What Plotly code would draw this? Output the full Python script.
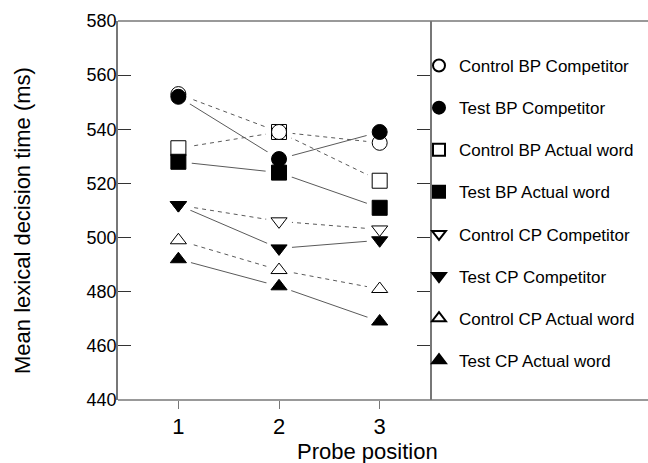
import plotly.graph_objects as go

# ---- data ----
probe_positions = [1, 2, 3]
series_names = [
    "Control BP Competitor", "Test BP Competitor",
    "Control BP Actual word", "Test BP Actual word",
    "Control CP Competitor", "Test CP Competitor",
    "Control CP Actual word", "Test CP Actual word",
]
control_bp_competitor = [553, 539, 535]
test_bp_competitor = [552, 529, 539]
control_bp_actual = [533, 539, 521]
test_bp_actual = [528, 524, 511]
control_cp_competitor = [512, 506, 503]
test_cp_competitor = [512, 496, 499]
control_cp_actual = [499, 488, 481]
test_cp_actual = [492, 482, 469]
y_ticks = [440, 460, 480, 500, 520, 540, 560, 580]

values = [control_bp_competitor, test_bp_competitor, control_bp_actual, test_bp_actual,
          control_cp_competitor, test_cp_competitor, control_cp_actual, test_cp_actual]

# ---- styles ----
symbols = ["circle", "circle", "square", "square",
           "triangle-down", "triangle-down", "triangle-up", "triangle-up"]
filled = [False, True, False, True, False, True, False, True]
sizes = [15, 15, 15, 15, 14, 14, 14, 14]
# drawing order (controls first, squares before circles), legend keeps series order
draw_order = [2, 0, 4, 6, 3, 1, 5, 7]

W, H = 648, 463
ML, MR, MT, MB = 118, 218, 21, 63
PW, PH = W - ML - MR, H - MT - MB

def px_x(px):
    return (px - ML) / PW

def px_y(py):
    return (H - MB - py) / PH

FONT = "Arial, Liberation Sans, sans-serif"
LINE_COLOR = "#5a5a5a"
AXIS_COLOR = "#777777"

fig = go.Figure()

# connecting lines
for i in draw_order:
    fig.add_trace(go.Scatter(
        x=probe_positions, y=values[i], mode="lines",
        line=dict(color=LINE_COLOR, width=1,
                  dash="solid" if filled[i] else "4px,4px"),
        showlegend=False, hoverinfo="skip"))

# white halos so lines stop short of markers
for i in draw_order:
    fig.add_trace(go.Scatter(
        x=probe_positions, y=values[i], mode="markers",
        marker=dict(symbol="circle", size=sizes[i] + 12, color="white",
                    line=dict(width=0)),
        showlegend=False, hoverinfo="skip"))

# markers
for i in draw_order:
    fig.add_trace(go.Scatter(
        x=probe_positions, y=values[i], mode="markers", name=series_names[i],
        legendrank=i + 1, legendgroup="g%d" % i,
        marker=dict(symbol=symbols[i], size=sizes[i],
                    color="black" if filled[i] else "white",
                    line=dict(color="black", width=1))))

fig.update_layout(
    width=W, height=H,
    margin=dict(l=ML, r=MR, t=MT, b=MB, pad=0, autoexpand=False),
    paper_bgcolor="white", plot_bgcolor="white",
    font=dict(family=FONT, color="black"),
    showlegend=True,
    legend=dict(x=px_x(419), y=px_y(48), xanchor="left", yanchor="top",
                font=dict(size=17, family=FONT), itemsizing="constant",
                traceorder="grouped", tracegroupgap=17, bgcolor="rgba(0,0,0,0)",
                itemwidth=30),
    xaxis=dict(range=[0.4, 3.5], tickvals=probe_positions,
               ticktext=[str(v) for v in probe_positions],
               ticks="outside", ticklen=8, tickcolor=AXIS_COLOR,
               showline=False, showgrid=False, zeroline=False,
               ticklabelstandoff=-1,
               tickfont=dict(size=22, family=FONT)),
    yaxis=dict(range=[440, 580], tickvals=y_ticks,
               ticks="inside", ticklen=13, tickcolor="#333333",
               showline=True, linecolor=AXIS_COLOR, linewidth=1.5, mirror="ticks",
               showgrid=False, zeroline=False, ticklabelstandoff=-4,
               tickfont=dict(size=18, family=FONT)),
    shapes=[
        dict(type="line", xref="paper", yref="paper", x0=0, x1=px_x(W), y0=1, y1=1,
             line=dict(color=AXIS_COLOR, width=1.5)),
        dict(type="line", xref="paper", yref="paper", x0=0, x1=px_x(W), y0=0, y1=0,
             line=dict(color=AXIS_COLOR, width=1.5)),
    ],
    annotations=[
        dict(text="Mean lexical decision time (ms)", xref="paper", yref="paper",
             x=px_x(22), y=px_y(221), showarrow=False, textangle=-90,
             font=dict(size=22, family=FONT), xanchor="center", yanchor="middle"),
        dict(text="Probe position", xref="paper", yref="paper",
             x=px_x(367), y=px_y(451), showarrow=False,
             font=dict(size=22, family=FONT), xanchor="center", yanchor="middle"),
    ],
)

fig.write_html("out.html")
